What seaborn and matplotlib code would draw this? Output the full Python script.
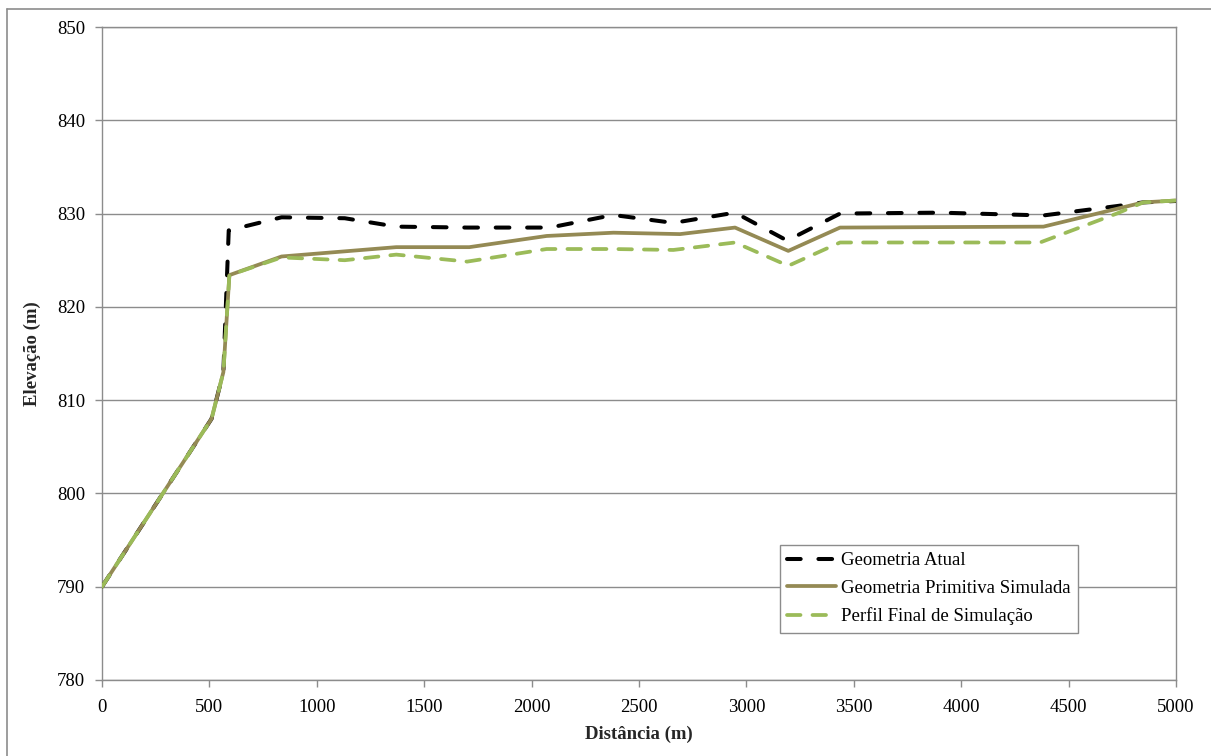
import matplotlib

matplotlib.use("Agg")
import matplotlib.pyplot as plt
import pandas as pd
import seaborn as sns
from matplotlib.lines import Line2D

# Distância (m) / Elevação (m)
ATUAL_X = [0, 510, 565, 590, 836, 1130, 1370, 1700, 2085, 2380, 2660, 2947,
           3190, 3436, 3900, 4383, 4724, 4848, 5000]
ATUAL_Y = [790, 808, 813, 828.2, 829.6, 829.5, 828.6, 828.5, 828.5, 829.85, 829.0, 830.1,
           827.1, 830.0, 830.1, 829.8, 830.8, 831.2, 831.35]

PRIM_X = [0, 510, 565, 593, 836, 1370, 1710, 2070, 2381, 2691, 2947,
          3195, 3436, 4383, 4848, 5000]
PRIM_Y = [790, 808, 813, 823.4, 825.4, 826.4, 826.4, 827.6, 827.95, 827.8, 828.5,
          826.0, 828.5, 828.6, 831.2, 831.4]

FINAL_X = [0, 510, 565, 593, 836, 1130, 1370, 1700, 2070, 2381, 2660, 2947,
           3195, 3436, 4367, 4724, 4848, 5000]
FINAL_Y = [790, 808, 813, 823.4, 825.3, 825.0, 825.6, 824.85, 826.2, 826.2, 826.1, 826.9,
           824.4, 826.9, 826.9, 830.0, 831.2, 831.4]

X_TICKS = list(range(0, 5001, 500))
Y_TICKS = list(range(780, 851, 10))

BLACK, OLIVE, GREEN, GRID = "#000000", "#948A54", "#9BBB59", "#8C8C8C"

sns.set_theme(style="white")
plt.rcParams.update({
    "font.family": ["Liberation Serif", "DejaVu Serif"],
    "font.size": 13.5,
    "text.color": "#000000",
    "xtick.color": "#000000",
    "ytick.color": "#000000",
})

fig = plt.figure(figsize=(12.11, 7.56), dpi=100)
ax = fig.add_axes([102 / 1211, 1 - 680 / 756, 1074 / 1211, 653 / 756])

# outer chart border (only left/top edges are inside the picture)
fig.add_artist(Line2D([7 / 1211, 7 / 1211], [0, 1 - 9 / 756], transform=fig.transFigure,
                      color=GRID, lw=1.2))
fig.add_artist(Line2D([7 / 1211, 1], [1 - 9 / 756, 1 - 9 / 756], transform=fig.transFigure,
                      color=GRID, lw=1.2))

atual = pd.DataFrame({"x": ATUAL_X, "y": ATUAL_Y})
prim = pd.DataFrame({"x": PRIM_X, "y": PRIM_Y})
final = pd.DataFrame({"x": FINAL_X, "y": FINAL_Y})

sns.lineplot(data=atual, x="x", y="y", ax=ax, sort=False, estimator=None,
             color=BLACK, lw=2.9, ls=(0, (3.4, 4.4)), dash_capstyle="round",
             label="Geometria Atual", zorder=3)
sns.lineplot(data=prim, x="x", y="y", ax=ax, sort=False, estimator=None,
             color=OLIVE, lw=2.7, label="Geometria Primitiva Simulada", zorder=4)
sns.lineplot(data=final, x="x", y="y", ax=ax, sort=False, estimator=None,
             color=GREEN, lw=2.7, ls=(0, (3.6, 3.2)), dash_capstyle="round",
             label="Perfil Final de Simulação", zorder=5)

ax.set_xlim(0, 5000)
ax.set_ylim(780, 850)
ax.set_xticks(X_TICKS)
ax.set_yticks(Y_TICKS)
ax.yaxis.grid(True, color=GRID, lw=1.0)
ax.xaxis.grid(False)
ax.set_axisbelow(True)
for side in ("left", "bottom", "right", "top"):
    ax.spines[side].set_visible(True)
    ax.spines[side].set_color(GRID)
    ax.spines[side].set_linewidth(1.0)
ax.tick_params(axis="both", which="major", direction="out", length=5, width=1,
               color=GRID, labelsize=13.5)
ax.tick_params(axis="x", pad=9, bottom=True)
ax.tick_params(axis="y", pad=7, left=True)

ax.set_xlabel("Distância (m)", fontsize=13.5, fontweight="bold", labelpad=7)
ax.set_ylabel("Elevação (m)", fontsize=13.5, fontweight="bold", labelpad=12)

leg = ax.legend(loc="upper left", bbox_to_anchor=(0.631, 0.207), fancybox=False,
                framealpha=1, edgecolor=GRID, fontsize=13.5, handlelength=2.6,
                handletextpad=0.25, borderpad=0.4, labelspacing=0.55, borderaxespad=0)
leg.get_frame().set_linewidth(1.0)

fig.savefig("out.png", dpi=100)
plt.close(fig)
